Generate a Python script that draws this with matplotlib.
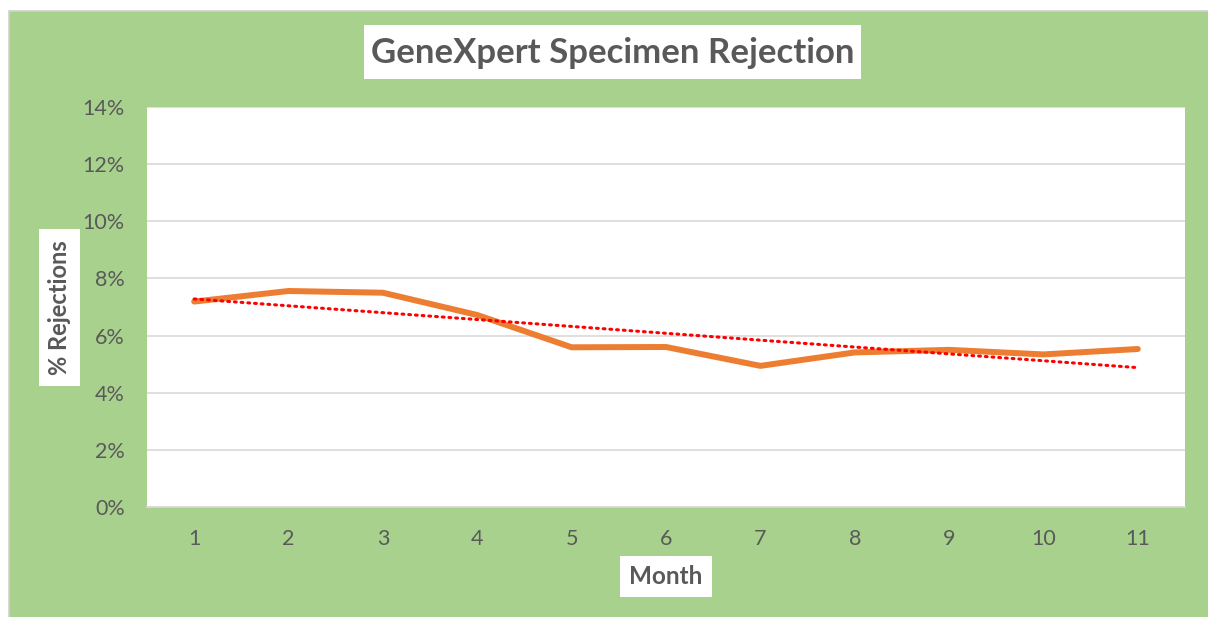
import numpy as np
import matplotlib
matplotlib.use('Agg')
import matplotlib.pyplot as plt
from matplotlib.patches import Rectangle
from matplotlib.ticker import PercentFormatter

months = [1, 2, 3, 4, 5, 6, 7, 8, 9, 10, 11]
rejection_pct = [7.19, 7.56, 7.50, 6.72, 5.59, 5.60, 4.94, 5.41, 5.50, 5.34, 5.53]
y_ticks = [0, 2, 4, 6, 8, 10, 12, 14]

title = 'GeneXpert Specimen Rejection'
xlabel = 'Month'
ylabel = '% Rejections'

W, H = 1208, 617
green = '#A9D18E'
text_grey = '#595959'
grid_grey = '#D9D9D9'

plt.rcParams['font.family'] = ['Lato', 'DejaVu Sans']

fig = plt.figure(figsize=(W / 100, H / 100), dpi=100)
fig.patch.set_facecolor('white')


def px_box(x0, y0, x1, y1, **kw):
    # rectangle in pixel coords (origin top-left)
    r = Rectangle((x0 / W, 1 - y1 / H), (x1 - x0) / W, (y1 - y0) / H,
                  transform=fig.transFigure, zorder=-10, **kw)
    fig.patches.append(r)


px_box(9, 11, W + 2, H + 2, facecolor=green, edgecolor='#D0D0D0', linewidth=1.2)
px_box(364, 25, 861, 79, facecolor='white', edgecolor='none')
px_box(39, 229, 80, 386, facecolor='white', edgecolor='none')
px_box(620, 556, 712, 597, facecolor='white', edgecolor='none')

fig.text(612.5 / W, 1 - 53 / H, title, ha='center', va='center',
         fontsize=25, fontweight='bold', color=text_grey)
fig.text(60 / W, 1 - 307.5 / H, ylabel, ha='center', va='center', rotation=90,
         fontsize=17, fontweight='bold', color=text_grey)
fig.text(666 / W, 1 - 577 / H, xlabel, ha='center', va='center',
         fontsize=17.5, fontweight='bold', color=text_grey)

ax = fig.add_axes([147 / W, 1 - 507 / H, (1185 - 147) / W, (507 - 107) / H])
ax.set_facecolor('white')

ax.plot(months, rejection_pct, color='#ED7D31', linewidth=4.3,
        solid_capstyle='round', solid_joinstyle='round', zorder=3)

# linear trendline
coef = np.polyfit(months, rejection_pct, 1)
trend = np.polyval(coef, months)
ax.plot(months, trend, color='#FF0000', linewidth=2.2, linestyle=(0, (0.6, 1.6)),
        dash_capstyle='round', zorder=4)

ax.set_xlim(0.5, 11.5)
ax.set_ylim(0, 14)
ax.set_yticks(y_ticks)
ax.set_xticks(months)
ax.yaxis.set_major_formatter(PercentFormatter(decimals=0))
ax.grid(axis='y', color=grid_grey, linewidth=1.2)
ax.set_axisbelow(True)
for s in ['top', 'right', 'left']:
    ax.spines[s].set_visible(False)
ax.spines['bottom'].set_color(grid_grey)
ax.spines['bottom'].set_linewidth(1.2)
ax.tick_params(axis='both', length=0, labelsize=15.5, colors=text_grey)
ax.tick_params(axis='y', pad=16)
ax.tick_params(axis='x', pad=16)

fig.savefig('out.png', dpi=100)
